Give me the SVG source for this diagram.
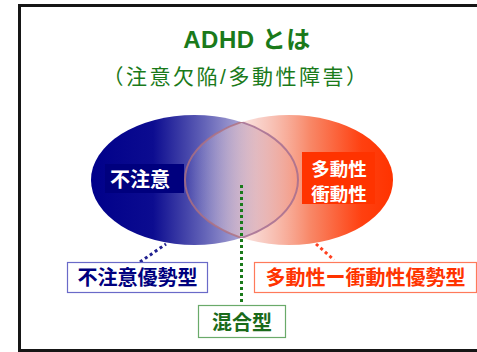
<svg xmlns="http://www.w3.org/2000/svg" width="477" height="352" viewBox="0 0 477 352">
  <style>
    .jp { font-family: "Liberation Sans", "Noto Sans CJK JP", sans-serif; }
    .b { font-weight: bold; }
    .lbl { font-family: "Noto Sans CJK JP", sans-serif; font-weight: bold; text-anchor: middle; }
    .dot { fill: none; stroke-width: 3; stroke-dasharray: 3 3; }
  </style>
  <defs>
    <linearGradient id="gBlue" x1="91" y1="0" x2="298" y2="0" gradientUnits="userSpaceOnUse">
      <stop offset="0" stop-color="#00008a"/>
      <stop offset="0.3" stop-color="#0c0c90"/>
      <stop offset="0.55" stop-color="#6464b8"/>
      <stop offset="0.8" stop-color="#c8c0e0"/>
      <stop offset="1" stop-color="#e8e0f0"/>
    </linearGradient>
    <linearGradient id="gRed" x1="185" y1="0" x2="393" y2="0" gradientUnits="userSpaceOnUse">
      <stop offset="0" stop-color="#ffffff" stop-opacity="0"/>
      <stop offset="0.35" stop-color="#f4b4a8" stop-opacity="0.6"/>
      <stop offset="0.6" stop-color="#f88868"/>
      <stop offset="0.85" stop-color="#ff4010"/>
      <stop offset="1" stop-color="#ff3300"/>
    </linearGradient>
    <clipPath id="cL"><ellipse cx="194.5" cy="180" rx="103.5" ry="65"/></clipPath>
    <clipPath id="cR"><ellipse cx="289" cy="180" rx="104" ry="65"/></clipPath>
  </defs>

  <rect x="19.5" y="5.5" width="470" height="345" fill="#ffffff" stroke="#161616" stroke-width="3"/>

  <g id="title">
    <text class="jp b" x="247" y="48" font-size="24" letter-spacing="0.5" fill="#1a7a1a" text-anchor="middle">ADHD とは</text>
    <text class="jp" x="236" y="84" font-size="21" letter-spacing="2.5" fill="#1a7a1a" text-anchor="middle">（注意欠陥/多動性障害）</text>
  </g>

  <g id="venn">
    <ellipse cx="194.5" cy="180" rx="103.5" ry="65" fill="url(#gBlue)"/>
    <ellipse cx="289" cy="180" rx="104" ry="65" fill="url(#gRed)"/>
    <g clip-path="url(#cR)">
      <ellipse cx="194.5" cy="180" rx="103.5" ry="65" fill="none" stroke="#a06a90" stroke-width="2" stroke-opacity="0.8"/>
    </g>
    <g clip-path="url(#cL)">
      <ellipse cx="289" cy="180" rx="104" ry="65" fill="none" stroke="#b0707e" stroke-width="2" stroke-opacity="0.8"/>
    </g>
  </g>

  <g id="node-inattention">
    <rect x="105" y="164" width="79" height="29" fill="#00007e"/>
    <text class="lbl" x="140" y="186.5" font-size="20" fill="#ffffff">不注意</text>
  </g>

  <g id="node-hyper">
    <rect x="302" y="152" width="73" height="52" fill="#ff3300"/>
    <text class="lbl" x="339" y="175.5" font-size="18.5" fill="#ffffff">多動性</text>
    <text class="lbl" x="339" y="200.5" font-size="18.5" fill="#ffffff">衝動性</text>
  </g>

  <g id="connectors">
    <line class="dot" x1="241.5" y1="185" x2="241.5" y2="305" stroke="#1a7a1a"/>
    <line class="dot" x1="140" y1="262" x2="166" y2="244" stroke="#202090"/>
    <line class="dot" x1="316" y1="244" x2="334" y2="260" stroke="#ff4020"/>
  </g>

  <g id="node-inattentive-type">
    <rect x="67.5" y="262.5" width="140" height="30" fill="#ffffff" stroke="#6a6ac8" stroke-width="1.2"/>
    <text class="lbl" x="137.5" y="285" font-size="20" fill="#00007e">不注意優勢型</text>
  </g>

  <g id="node-hyper-type">
    <rect x="254.5" y="262.5" width="222" height="30" fill="#ffffff" stroke="#ff7a5a" stroke-width="1.2"/>
    <text class="lbl" x="365.5" y="285" font-size="20" fill="#ff3300">多動性ー衝動性優勢型</text>
  </g>

  <g id="node-combined">
    <rect x="198.5" y="305.5" width="87" height="32" fill="#ffffff" stroke="#6aaa6a" stroke-width="1.2"/>
    <text class="lbl" x="242" y="330" font-size="20" fill="#1a6a1a">混合型</text>
  </g>
</svg>
